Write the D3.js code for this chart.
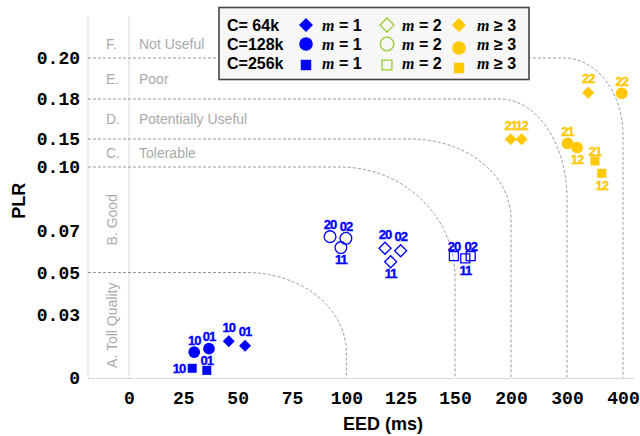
<!DOCTYPE html>
<html>
<head>
<meta charset="utf-8">
<script src="https://cdn.jsdelivr.net/npm/d3@7"></script>
<style>
  html, body { margin: 0; padding: 0; background: #fff; }
  svg { display: block; }
  text { white-space: pre; }
</style>
</head>
<body>
<svg id="chart" width="640" height="436"></svg>
<script>
// Axis ticks
const eedTicks = [0, 25, 50, 75, 100, 125, 150, 200, 300, 400];
const plrTicks = [0, 0.03, 0.05, 0.07, 0.10, 0.15, 0.18, 0.20];
const plrTickLabels = ["0", "0.03", "0.05", "0.07", "0.10", "0.15", "0.18", "0.20"];

// Quality zones (upper PLR limit of each band, EED limit of each rounded boundary)
const zoneLetters = ["A.", "B.", "C.", "D.", "E.", "F."];
const zoneNames = ["Toll Quality", "Good", "Tolerable", "Potentially Useful", "Poor", "Not Useful"];
const zonePlrMax = [0.05, 0.10, 0.15, 0.18, 0.20, 0.22];
const zoneEedMax = [100, 150, 200, 300, 400];

// Legend entries
const capacities = ["C= 64k", "C=128k", "C=256k"];
const pathCounts = ["1", "2", "3"];
const pathRelations = ["=", "=", "\u2265"];

// Path-combination labels
const labelsM1 = ["10", "01"];
const labelsM2 = ["20", "02", "11"];
const labelsM3 = ["21", "12", "22"];

// m = 1
const eed64m1 = [45.9, 53.4];    const plr64m1 = [0.0174, 0.0153];
const eed128m1 = [30.0, 36.8];   const plr128m1 = [0.0123, 0.0139];
const eed256m1 = [29.1, 35.8];   const plr256m1 = [0.0046, 0.0036];
// m = 2
const eed64m2 = [117.8, 125.0, 120.4]; const plr64m2 = [0.0615, 0.0603, 0.0551];
const eed128m2 = [92.5, 99.8, 97.5];   const plr128m2 = [0.0670, 0.0662, 0.0618];
const eed256m2 = [149.5, 164.0, 159.2]; const plr256m2 = [0.0578, 0.0578, 0.0567];
// m >= 3
const eed64m3 = [199.7, 219.0, 338.0]; const plr64m3 = [0.1495, 0.1495, 0.1831];
const eed128m3 = [301.0, 318.0, 397.7]; const plr128m3 = [0.1423, 0.1345, 0.1828];
const eed256m3 = [350.0, 362.0];        const plr256m3 = [0.1107, 0.0970];

const series = [
  { cap: 0, m: 0, labels: labelsM1, eed: eed64m1, plr: plr64m1 },
  { cap: 1, m: 0, labels: labelsM1, eed: eed128m1, plr: plr128m1 },
  { cap: 2, m: 0, labels: labelsM1, eed: eed256m1, plr: plr256m1 },
  { cap: 0, m: 1, labels: labelsM2, eed: eed64m2, plr: plr64m2 },
  { cap: 1, m: 1, labels: labelsM2, eed: eed128m2, plr: plr128m2 },
  { cap: 2, m: 1, labels: labelsM2, eed: eed256m2, plr: plr256m2 },
  { cap: 0, m: 2, labels: labelsM3, eed: eed64m3, plr: plr64m3 },
  { cap: 1, m: 2, labels: labelsM3, eed: eed128m3, plr: plr128m3 },
  { cap: 2, m: 2, labels: labelsM3, eed: eed256m3, plr: plr256m3 }
];

const BLUE = "#0000ff", GOLD = "#ffc800", GREEN = "#9acd32";
const SANS = "Liberation Sans, Arial, Helvetica, sans-serif";
const MONO = "Liberation Mono, Courier New, monospace";
const SERIF = "Liberation Serif, Times New Roman, serif";

const svg = d3.select("#chart");

// Piecewise scales: linear up to 150 ms / 0.10, then stretched bands
const x = d3.scaleLinear().domain([0, 150, 200, 300, 400]).range([129, 455, 511, 567, 623]);
const y = d3.scaleLinear().domain([0, 0.10, 0.15, 0.18, 0.20, 0.22]).range([378, 167, 139, 99, 58, 30.5]);

const plotLeft = 88, plotTop = 17, plotBottom = y(0), plotRight = 633;

// Dotted frame
const frame = svg.append("g").attr("stroke", "#bbb").attr("stroke-width", 1)
  .attr("stroke-dasharray", "1,1").attr("fill", "none");
frame.append("line").attr("x1", plotLeft).attr("x2", plotLeft).attr("y1", plotTop).attr("y2", plotBottom);
frame.append("line").attr("x1", x(0)).attr("x2", x(0)).attr("y1", plotTop).attr("y2", plotBottom);
frame.append("line").attr("x1", plotLeft).attr("x2", plotRight).attr("y1", plotBottom + 0.5).attr("y2", plotBottom + 0.5);

// Zone boundaries: horizontal PLR limit bending down into the EED limit
const cornerRadii = [[100, 80], [115, 110], [100, 80], [67, 100], [59, 77]];
svg.append("g").selectAll("path").data(zoneEedMax).join("path")
  .attr("fill", "none").attr("stroke", "#999").attr("stroke-width", 1)
  .attr("stroke-dasharray", "3,2")
  .attr("d", (d, i) => {
    const yb = y(zonePlrMax[i]), xc = x(d);
    const [rx, ry] = cornerRadii[i];
    return `M${plotLeft},${yb}H${xc - rx}A${rx},${ry} 0 0 1 ${xc},${yb + ry}V${plotBottom}`;
  });

// Zone labels
const bandMid = i => (y(i === 0 ? 0 : zonePlrMax[i - 1]) + y(zonePlrMax[i])) / 2;
const zoneG = svg.append("g").attr("fill", "#aaa").style("font-family", SANS).style("font-size", "14px");
zoneLetters.forEach((L, i) => {
  if (i < 2) {
    zoneG.append("text")
      .attr("transform", `translate(112,${bandMid(i)}) rotate(-90)`)
      .attr("text-anchor", "middle").attr("dominant-baseline", "central")
      .text(L + " " + zoneNames[i]);
  } else {
    zoneG.append("text").attr("x", 106).attr("y", bandMid(i))
      .attr("dominant-baseline", "central").text(L);
    zoneG.append("text").attr("x", 139).attr("y", bandMid(i))
      .attr("dominant-baseline", "central").text(zoneNames[i]);
  }
});

// Axes
const xAxis = svg.append("g").attr("transform", `translate(0,${plotBottom})`)
  .call(d3.axisBottom(x).tickValues(eedTicks).tickSize(0).tickPadding(13).tickFormat(d3.format("d")));
xAxis.select(".domain").remove();
xAxis.selectAll("text").attr("fill", "#000")
  .style("font-family", MONO).style("font-size", "18px").style("font-weight", "bold");

const yAxis = svg.append("g").attr("transform", `translate(${plotLeft},0)`)
  .call(d3.axisLeft(y).tickValues(plrTicks).tickSize(0).tickPadding(8)
    .tickFormat((d, i) => plrTickLabels[i]));
yAxis.select(".domain").remove();
yAxis.selectAll("text").attr("fill", "#000")
  .style("font-family", MONO).style("font-size", "18px").style("font-weight", "bold");

// Axis titles
svg.append("text").attr("x", 383).attr("y", 430).attr("text-anchor", "middle")
  .style("font-family", SANS).style("font-size", "18px").style("font-weight", "bold")
  .text("EED (ms)");
svg.append("text").attr("transform", `translate(19,${(y(0.07) + y(0.10)) / 2 + 2}) rotate(-90)`)
  .attr("text-anchor", "middle").attr("dominant-baseline", "central")
  .style("font-family", SANS).style("font-size", "18px").style("font-weight", "bold")
  .text("PLR");

// Marker helpers
function markerPath(cap, scale) {
  if (cap === 0) return d3.symbol(d3.symbolSquare, 72 * scale)();
  if (cap === 1) return d3.symbol(d3.symbolCircle, 108 * scale)();
  return d3.symbol(d3.symbolSquare, 81 * scale)();
}
function markerStyle(sel, m, openColor) {
  if (m === 1) sel.attr("fill", "none").attr("stroke", openColor).attr("stroke-width", 1.3);
  else sel.attr("fill", m === 0 ? BLUE : GOLD).attr("stroke", "none");
}

// Legend
const lg = svg.append("g");
lg.append("rect").attr("x", 219).attr("y", 7.5).attr("width", 310).attr("height", 72)
  .attr("fill", "#f7f7f7").attr("stroke", "#444").attr("stroke-width", 1.6);
const rowY = [25, 44, 63];
const colMarkX = [306, 387, 459];
const colTextX = [322, 402, 477];
capacities.forEach((c, r) => {
  lg.append("text").attr("x", 227).attr("y", rowY[r]).attr("dominant-baseline", "central")
    .style("font-family", SANS).style("font-size", "16px").style("font-weight", "bold").text(c);
  pathCounts.forEach((n, k) => {
    const nudge = r === 0 ? 0 : (k === 2 ? (r === 1 ? 4 : 5) : (r === 2 ? 2 : 0));
    const mk = lg.append("path")
      .attr("d", markerPath(r, r === 2 && k === 1 ? 1.2 : 1.35))
      .attr("transform", `translate(${colMarkX[k]},${rowY[r] + nudge})${r === 0 ? " rotate(45)" : ""}`);
    markerStyle(mk, k, GREEN);
    const t = lg.append("text").attr("x", colTextX[k]).attr("y", rowY[r])
      .attr("dominant-baseline", "central")
      .style("font-family", SANS).style("font-size", "16px").style("font-weight", "bold");
    t.append("tspan").style("font-family", SERIF).style("font-style", "italic").text("m");
    t.append("tspan").text(` ${pathRelations[k]} ${n}`);
  });
});

// Data points and their path-combination labels
const shapeLift = [14, 12, 10];
function labelPlacement(s, lab) {
  if (s.m === 1 && lab === "11") return "below";
  if (s.m === 2 && s.cap > 0 && lab === "12") return "below";
  if (s.m === 0 && s.cap === 2 && lab === "10") return "left";
  return "above";
}
const pts = svg.append("g");
series.forEach(s => {
  s.eed.forEach((e, i) => {
    const px = x(e), py = y(s.plr[i]);
    const mk = pts.append("path").attr("d", markerPath(s.cap, 1))
      .attr("transform", `translate(${px},${py})${s.cap === 0 ? " rotate(45)" : ""}`);
    markerStyle(mk, s.m, BLUE);
    const lab = s.labels[i];
    const place = labelPlacement(s, lab);
    let lx = px, ly = py - shapeLift[s.cap], anchor = "middle";
    if (place === "below") ly = py + 12;
    if (place === "left") { lx = px - 7; ly = py; anchor = "end"; }
    const col = s.m === 2 ? GOLD : BLUE;
    pts.append("text").attr("x", lx).attr("y", ly)
      .attr("text-anchor", anchor).attr("dominant-baseline", "central")
      .attr("fill", col).attr("stroke", col).attr("stroke-width", 0.35)
      .style("font-family", SANS).style("font-size", "13px").style("font-weight", "bold")
      .style("letter-spacing", "-1px")
      .text(lab);
  });
});
</script>
</body>
</html>
